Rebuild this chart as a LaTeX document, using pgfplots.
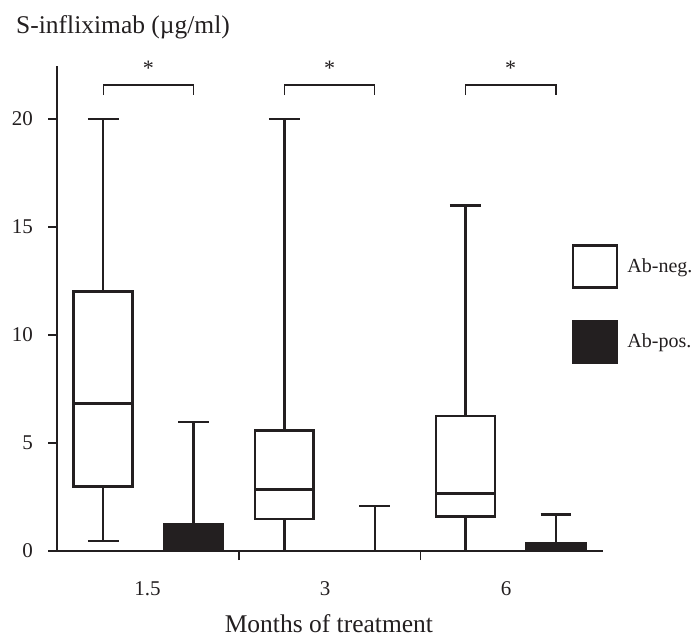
\documentclass[border=0pt]{standalone}
\usepackage{fontspec}
\setmainfont{Liberation Serif}
\usepackage{pgfplots}
\pgfplotsset{compat=1.18}
\usepgfplotslibrary{statistics}
\definecolor{ink}{RGB}{35,31,32}
\begin{document}
\begin{tikzpicture}
\useasboundingbox (-57bp,-86bp) rectangle (638bp,551bp);
\begin{axis}[
  at={(0,0)}, anchor=south west,
  scale only axis, width=546bp, height=485bp,
  xmin=0.49, xmax=6.52, ymin=0, ymax=22.45,
  axis x line=bottom, axis y line=left,
  axis line style={-, line width=2.6bp, ink},
  clip=false,
  tick align=outside,
  ytick={0,5,10,15,20},
  y tick style={line width=2.6bp, ink},
  major tick length=9bp,
  xtick={2.5,4.5}, xticklabels={},
  x tick style={line width=1.2bp, ink},
  extra x ticks={1.49,3.45,5.45},
  extra x tick labels={1.5,3,6},
  extra x tick style={major tick length=0pt, tick label style={anchor=base, yshift=-44bp, inner sep=0pt}},
  /pgf/number format/assume math mode=true,
  tick label style={font=\fontsize{21bp}{25bp}\selectfont, text=ink},
  yticklabel style={anchor=east, inner sep=0pt, xshift=-15bp},
  xlabel={Months of treatment},
  every axis x label/.style={at={(axis description cs:0.498,0)}, anchor=base, yshift=-81.5bp, inner sep=0pt, font=\fontsize{25.5bp}{30bp}\selectfont, text=ink},
  ylabel={S-infliximab (µg/ml)},
  every axis y label/.style={at={(axis description cs:-0.0751,1.068)}, anchor=base west, inner sep=0pt, font=\fontsize{25.5bp}{30bp}\selectfont, text=ink},
  legend style={draw=none, fill=none, at={(axis description cs:0.943,0.633)}, anchor=north west,
    font=\fontsize{20bp}{24bp}\selectfont, row sep=31bp, column sep=7bp, inner sep=0pt, text=ink},
  legend cell align=left,
  boxplot/draw direction=y,
  boxplot/box extend=0.65,
  boxplot/whisker extend=0.34,
]
% Ab-neg.
\addplot[ink, line width=2.6bp, forget plot, boxplot/every box/.style={fill=white}, boxplot prepared={draw position=1,
  lower whisker=0.46, lower quartile=2.98, median=6.84, upper quartile=12.0, upper whisker=20}] coordinates {};
\addplot[ink, line width=2.6bp, forget plot, boxplot/every box/.style={fill=white}, boxplot prepared={draw position=3,
  lower whisker=0, lower quartile=1.48, median=2.86, upper quartile=5.57, upper whisker=20}] coordinates {};
\addplot[ink, line width=2.6bp, forget plot, boxplot/every box/.style={fill=white}, boxplot prepared={draw position=5,
  lower whisker=0, lower quartile=1.59, median=2.67, upper quartile=6.25, upper whisker=16}] coordinates {};
% Ab-pos.
\addplot[ink, line width=2.6bp, forget plot, boxplot/every box/.style={fill=ink}, boxplot prepared={draw position=2,
  lower whisker=0, lower quartile=0, median=0, upper quartile=1.22, upper whisker=5.97}] coordinates {};
\addplot[ink, line width=2.6bp, forget plot, boxplot/every box/.style={fill=ink}, boxplot prepared={draw position=4,
  lower whisker=0, lower quartile=0, median=0, upper quartile=0, upper whisker=2.08}] coordinates {};
\addplot[ink, line width=2.6bp, forget plot, boxplot/every box/.style={fill=ink}, boxplot prepared={draw position=6,
  lower whisker=0, lower quartile=0, median=0, upper quartile=0.36, upper whisker=1.68}] coordinates {};
% significance brackets
\addplot[ink, line width=1.3bp, sharp plot, forget plot] coordinates {(1,21.1) (1,21.57) (2,21.57) (2,21.1)};
\addplot[ink, line width=1.3bp, sharp plot, forget plot] coordinates {(3,21.1) (3,21.57) (4,21.57) (4,21.1)};
\addplot[ink, line width=1.3bp, sharp plot, forget plot] coordinates {(5,21.1) (5,21.57) (6,21.57) (6,21.1)};
\node[anchor=base, inner sep=0pt, font=\fontsize{22bp}{26bp}\selectfont, text=ink] at (axis cs:1.5,22.0) {*};
\node[anchor=base, inner sep=0pt, font=\fontsize{22bp}{26bp}\selectfont, text=ink] at (axis cs:3.5,22.0) {*};
\node[anchor=base, inner sep=0pt, font=\fontsize{22bp}{26bp}\selectfont, text=ink] at (axis cs:5.5,22.0) {*};
% legend
\addlegendimage{legend image code/.code={\draw[ink, line width=2.4bp, fill=white] (0bp,-21bp) rectangle (44bp,21bp);}}
\addlegendentry{Ab-neg.}
\addlegendimage{legend image code/.code={\draw[ink, line width=2.4bp, fill=ink] (0bp,-21bp) rectangle (44bp,21bp);}}
\addlegendentry{Ab-pos.}
\end{axis}
\end{tikzpicture}
\end{document}
